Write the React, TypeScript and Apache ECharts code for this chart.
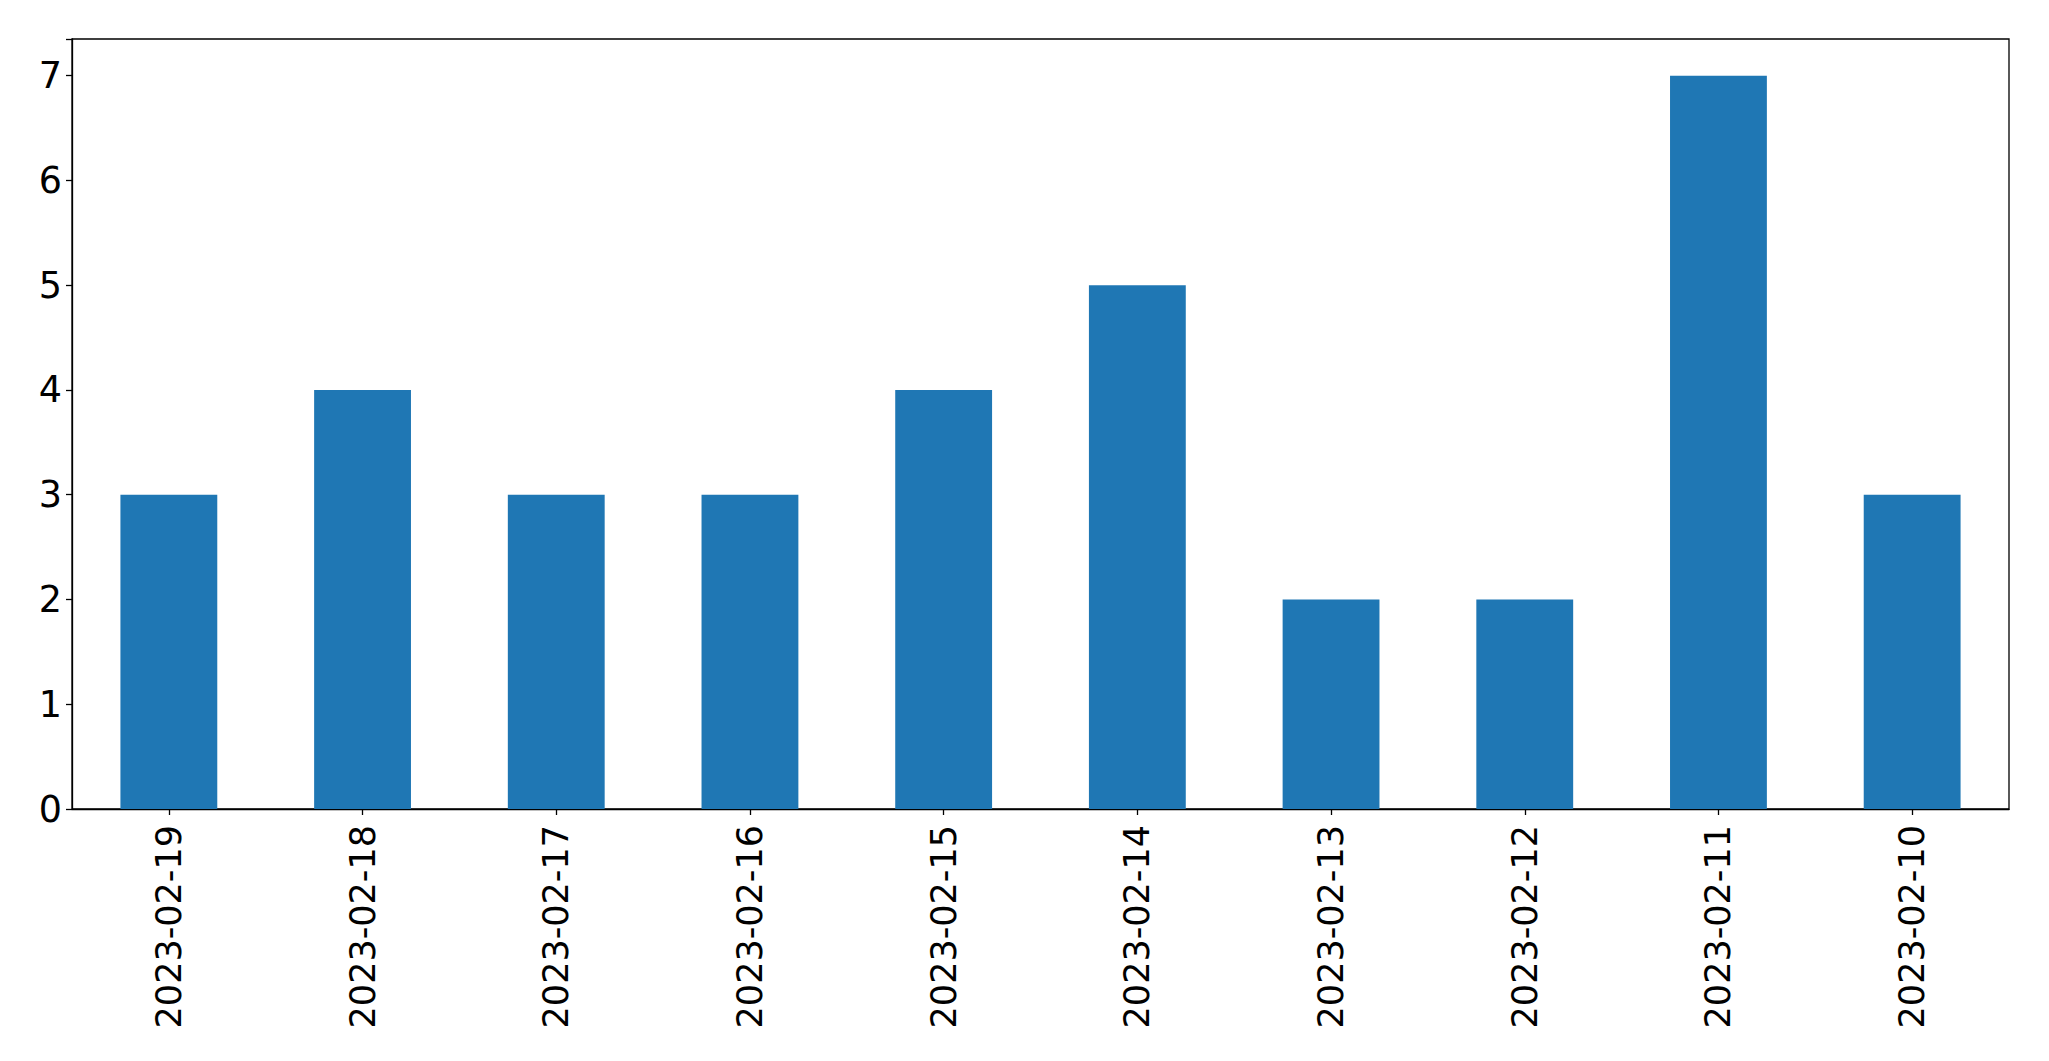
import React, { useEffect, useRef } from "react";
import * as echarts from "echarts";

const categories = [
  "2023-02-19",
  "2023-02-18",
  "2023-02-17",
  "2023-02-16",
  "2023-02-15",
  "2023-02-14",
  "2023-02-13",
  "2023-02-12",
  "2023-02-11",
  "2023-02-10",
];
const counts = [3, 4, 3, 3, 4, 5, 2, 2, 7, 3];
const yTicks = [0, 1, 2, 3, 4, 5, 6, 7];

export default function App() {
  const ref = useRef<HTMLDivElement>(null);
  useEffect(() => {
    if (!ref.current) return;
    const chart = echarts.init(ref.current, null, { renderer: "svg" });
    const font = "DejaVu Sans";
    chart.setOption({
      animation: false,
      backgroundColor: "#ffffff",
      grid: {
        left: 72,
        right: 40,
        top: 39,
        bottom: 252,
        show: true,
        borderColor: "#000000",
        borderWidth: 1.3,
        backgroundColor: "transparent",
      },
      xAxis: {
        type: "category",
        data: categories,
        boundaryGap: true,
        axisLine: { show: true, lineStyle: { color: "#000000", width: 1.3 } },
        axisTick: {
          show: true,
          alignWithLabel: true,
          length: 6,
          lineStyle: { color: "#000000", width: 1.3 },
        },
        axisLabel: {
          rotate: 90,
          margin: 16,
          fontFamily: font,
          fontSize: 35,
          color: "#000000",
          interval: 0,
        },
        splitLine: { show: false },
      },
      yAxis: {
        type: "value",
        min: 0,
        max: 7.35,
        interval: 1,
        axisLine: { show: true, lineStyle: { color: "#000000", width: 1.3 } },
        axisTick: { show: true, length: 6, lineStyle: { color: "#000000", width: 1.3 } },
        axisLabel: {
          margin: 10,
          fontFamily: font,
          fontSize: 36.5,
          color: "#000000",
          formatter: (v: number) => (yTicks.includes(v) ? String(v) : ""),
        },
        splitLine: { show: false },
      },
      series: [
        {
          type: "bar",
          data: counts,
          barWidth: "50%",
          itemStyle: { color: "#1f77b4" },
        },
      ],
    });
    return () => chart.dispose();
  }, []);
  return (
    <div
      ref={ref}
      style={{ position: "fixed", left: 0, top: 0, width: 2049, height: 1061 }}
    />
  );
}
